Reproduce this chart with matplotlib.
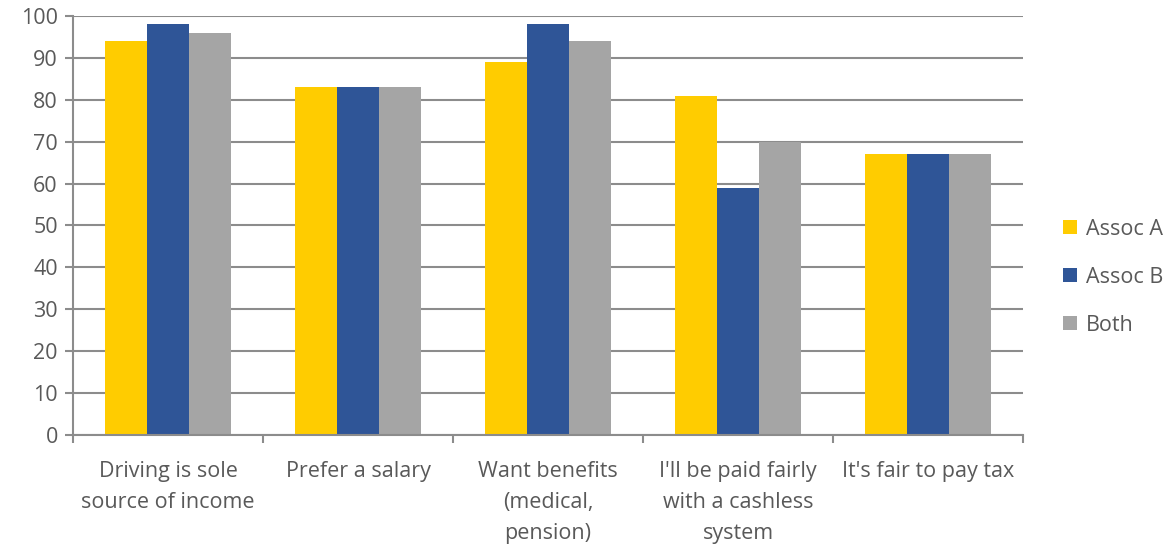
import matplotlib.pyplot as plt
import numpy as np

categories = [
    "Driving is sole\nsource of income",
    "Prefer a salary",
    "Want benefits\n(medical,\npension)",
    "I'll be paid fairly\nwith a cashless\nsystem",
    "It's fair to pay tax",
]
assoc_a = [94, 83, 89, 81, 67]
assoc_b = [98, 83, 98, 59, 67]
both = [96, 83, 94, 70, 67]

series = [
    ("Assoc A", assoc_a, "#FFCC00"),
    ("Assoc B", assoc_b, "#2F5597"),
    ("Both", both, "#A5A5A5"),
]

TEXT = "#595959"
GRID = "#8C8C8C"
FS = 15.5


def main():
    plt.rcParams["font.family"] = ["Open Sans", "DejaVu Sans"]

    fig = plt.figure(figsize=(11.76, 5.49), dpi=100)
    ax = fig.add_axes([0.0621, 0.2077, 0.8079, 0.7632])

    x = np.arange(len(categories))
    width = 0.22
    for i, (name, vals, color) in enumerate(series):
        ax.bar(x + (i - 1) * width, vals, width, color=color,
               label=name, zorder=3)

    ax.set_xlim(-0.5, len(categories) - 0.5)
    ax.set_ylim(0, 100)
    ax.set_yticks(np.arange(0, 101, 10))
    ax.yaxis.grid(True, color=GRID, linewidth=1.5, zorder=0)

    ax.set_xticks(x)
    ax.set_xticklabels(categories, fontsize=FS, color=TEXT,
                       linespacing=1.6)
    ax.set_xticks(np.arange(-0.5, len(categories)), minor=True)
    ax.tick_params(axis="x", which="major", length=0, pad=19)
    ax.tick_params(axis="x", which="minor", length=6, width=1.5,
                   color=GRID, direction="out")
    ax.tick_params(axis="y", length=6, width=1.5, color=GRID,
                   labelsize=FS, labelcolor=TEXT, pad=5)

    for side in ("top", "right"):
        ax.spines[side].set_visible(False)
    for side in ("left", "bottom"):
        ax.spines[side].set_color(GRID)
        ax.spines[side].set_linewidth(1.5)
        ax.spines[side].set_zorder(4)

    leg = fig.legend(loc="center left", bbox_to_anchor=(0.895, 0.495),
                     frameon=False, fontsize=FS, handlelength=0.65,
                     handleheight=0.65, handletextpad=0.4,
                     labelspacing=1.25, borderpad=0)
    for t in leg.get_texts():
        t.set_color(TEXT)

    fig.savefig("out.png", dpi=100)


if __name__ == "__main__":
    main()
